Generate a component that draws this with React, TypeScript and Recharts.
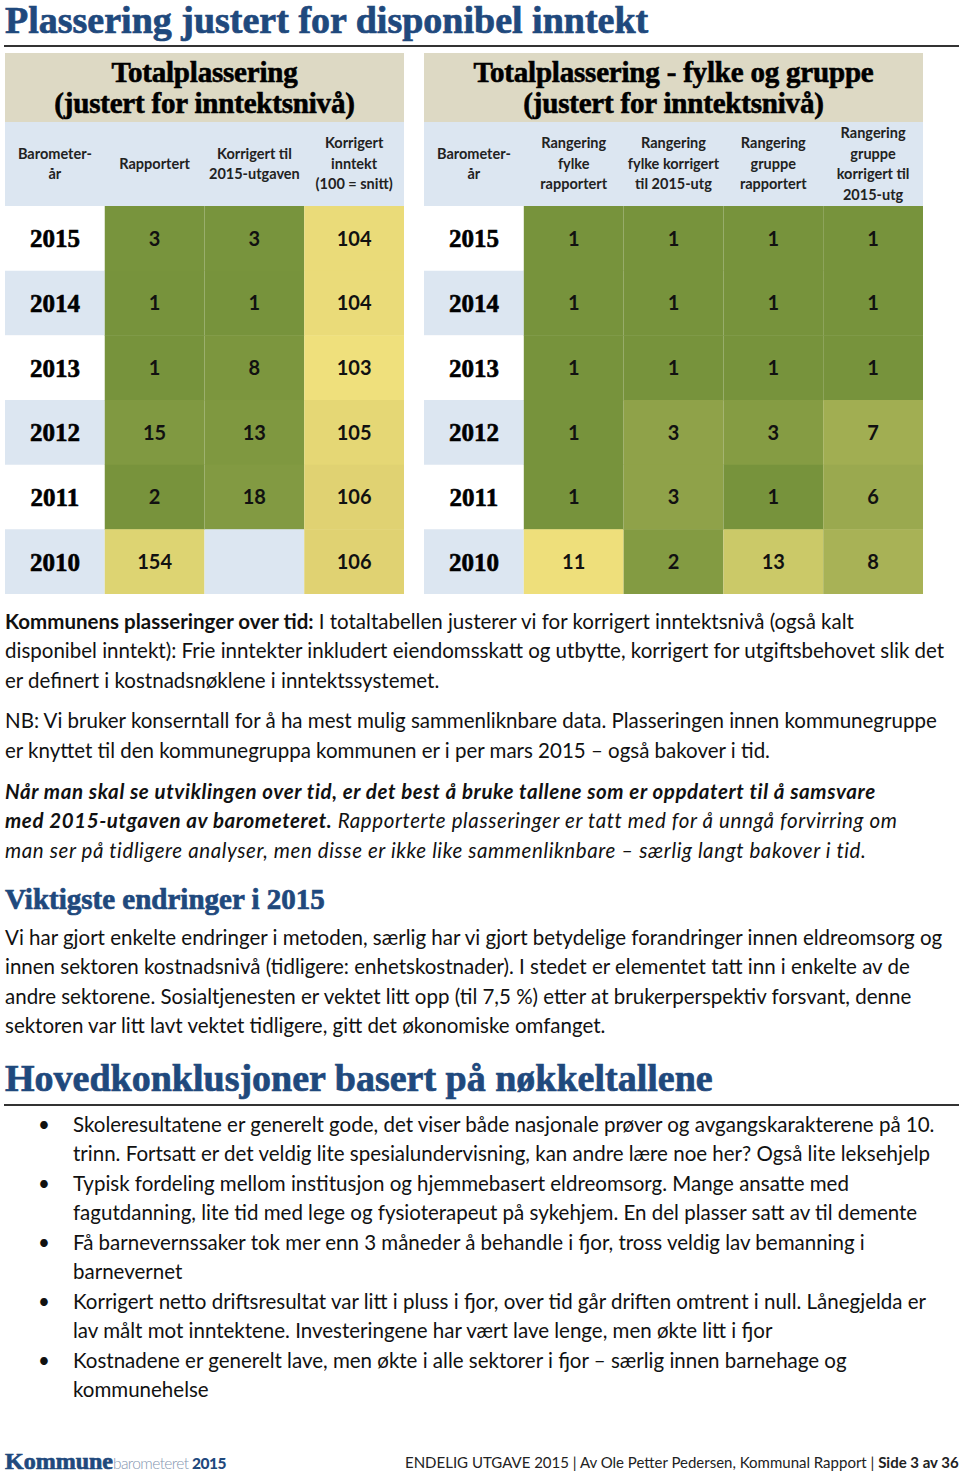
import React from 'react';
import { BarChart, Bar, XAxis, YAxis, Cell, LabelList } from 'recharts';

const years = [2015, 2014, 2013, 2012, 2011, 2010];
const rapportert = [3, 1, 1, 15, 2, 154];
const korrigert2015 = [3, 1, 8, 13, 18, null];
const korrigertInntekt = [104, 104, 103, 105, 106, 106];

const fylkeRapportert = [1, 1, 1, 1, 1, 11];
const fylkeKorrigert = [1, 1, 1, 3, 3, 2];
const gruppeRapportert = [1, 1, 1, 3, 1, 13];
const gruppeKorrigert = [1, 1, 1, 7, 6, 8];

const leftHeaders = [['Barometer-', 'år'], ['Rapportert'], ['Korrigert til', '2015-utgaven'], ['Korrigert', 'inntekt', '(100 = snitt)']];
const rightHeaders = [
  ['Barometer-', 'år'],
  ['Rangering', 'fylke', 'rapportert'],
  ['Rangering', 'fylke korrigert', 'til 2015-utg'],
  ['Rangering', 'gruppe', 'rapportert'],
  ['Rangering', 'gruppe', 'korrigert til', '2015-utg'],
];

const BLUE = '#1f497d';
const LIGHTBLUE = '#dce6f1';
const TAN = '#ddd9c4';
const SERIF = '"Liberation Serif", "DejaVu Serif", serif';
const SANS = 'Lato, "Open Sans", sans-serif';

const GREEN = [0x77, 0x93, 0x3c];
const YELLOW = [0xee, 0xdf, 0x7b];

const mix = (a: number[], b: number[], t: number) => {
  const c = a.map((v, i) => Math.round(v + (b[i] - v) * t));
  return `rgb(${c[0]},${c[1]},${c[2]})`;
};
const scale = (lo: number, hi: number, from = GREEN, to = YELLOW) => (v: number | null) => {
  if (v == null) return null;
  const t = Math.max(0, Math.min(1, (v - lo) / (hi - lo)));
  return mix(from, to, t);
};
const rankScale = scale(1, 180);
const fylkeScale = scale(1, 11);
const gruppeScale = scale(1, 18);
const incomeScale = scale(103, 106, [0xef, 0xe0, 0x7c], [0xe0, 0xd2, 0x72]);

const rowBg = (i: number) => (i % 2 === 0 ? '#ffffff' : LIGHTBLUE);

const leftRows = years.map((y, i) => ({
  year: y, w0: 1, w1: 1, w2: 1, w3: 1,
  a: rapportert[i], b: korrigert2015[i], c: korrigertInntekt[i],
}));
const rightRows = years.map((y, i) => ({
  year: y, w0: 1, w1: 1, w2: 1, w3: 1, w4: 1,
  a: fylkeRapportert[i], b: fylkeKorrigert[i], c: gruppeRapportert[i], d: gruppeKorrigert[i],
}));

const yearLabel = { fill: '#000', fontFamily: SERIF, fontWeight: 700, fontSize: 25, stroke: '#000', strokeWidth: 0.6 };
const valueLabel = { fill: '#111', fontFamily: SANS, fontWeight: 700, fontSize: 20 };

type Col = { key: string; w: string; color: (v: any, i: number) => string | null };

const Table = ({ left, top, width, title, headers, rows, cols }: any) => (
  <div style={{ position: 'absolute', left, top, width }}>
    <div style={{ background: TAN, height: 69, display: 'flex', flexDirection: 'column', justifyContent: 'center', alignItems: 'center', fontFamily: SERIF, fontWeight: 700, fontSize: 29, lineHeight: '31px', WebkitTextStroke: '0.6px #000', letterSpacing: -0.2, whiteSpace: 'nowrap' }}>
      {title.map((t: string) => <div key={t}>{t}</div>)}
    </div>
    <div style={{ background: LIGHTBLUE, height: 84, display: 'flex' }}>
      {headers.map((h: string[], i: number) => (
        <div key={i} style={{ flex: 1, display: 'flex', flexDirection: 'column', justifyContent: 'center', alignItems: 'center', fontFamily: SANS, fontWeight: 700, fontSize: 14.5, lineHeight: '20.5px', color: '#222', whiteSpace: 'nowrap' }}>
          {h.map((l) => <div key={l}>{l}</div>)}
        </div>
      ))}
    </div>
    <BarChart width={width} height={388} data={rows} layout="vertical" margin={{ top: 0, right: 0, bottom: 0, left: 0 }} barCategoryGap={0}>
      <XAxis type="number" domain={[0, cols.length]} hide />
      <YAxis type="category" dataKey="year" hide />
      {cols.map((c: Col, ci: number) => (
        <Bar key={c.key} dataKey={c.w} stackId="t" isAnimationActive={false}>
          {rows.map((r: any, i: number) => (
            <Cell key={i} fill={c.color(r[c.key], i) ?? rowBg(i)} />
          ))}
          <LabelList dataKey={c.key} position="center" style={ci === 0 ? yearLabel : valueLabel} />
        </Bar>
      ))}
    </BarChart>
  </div>
);

const Line = ({ x, y, size = 20.5, children, style }: any) => (
  <div style={{ position: 'absolute', left: x, top: y - 15, lineHeight: '30px', fontSize: size, whiteSpace: 'nowrap', fontFamily: SANS, color: '#111', ...style }}>
    {children}
  </div>
);

const ITALIC = { fontStyle: 'italic', letterSpacing: 0.6 };

const Heading = ({ y, size, children }: any) => (
  <div style={{ position: 'absolute', left: 5, top: y - size * 0.62, lineHeight: `${size * 1.2}px`, fontSize: size, whiteSpace: 'nowrap', fontFamily: SERIF, fontWeight: 700, color: BLUE, WebkitTextStroke: `0.7px ${BLUE}` }}>
    {children}
  </div>
);

const Bullet = ({ y }: { y: number }) => <Line x={38} y={y}>•</Line>;

export default function App() {
  const leftCols: Col[] = [
    { key: 'year', w: 'w0', color: () => null },
    { key: 'a', w: 'w1', color: rankScale },
    { key: 'b', w: 'w2', color: rankScale },
    { key: 'c', w: 'w3', color: incomeScale },
  ];
  const rightCols: Col[] = [
    { key: 'year', w: 'w0', color: () => null },
    { key: 'a', w: 'w1', color: fylkeScale },
    { key: 'b', w: 'w2', color: fylkeScale },
    { key: 'c', w: 'w3', color: gruppeScale },
    { key: 'd', w: 'w4', color: gruppeScale },
  ];
  return (
    <div style={{ position: 'absolute', left: 0, top: 0, width: 960, height: 1475, background: '#fff', overflow: 'hidden' }}>
      <Heading y={22} size={38}>Plassering justert for disponibel inntekt</Heading>
      <div style={{ position: 'absolute', left: 4, top: 45, width: 955, height: 1.5, background: '#333' }} />

      <Table left={5} top={53} width={399} title={['Totalplassering', '(justert for inntektsnivå)']} headers={leftHeaders} rows={leftRows} cols={leftCols} />
      <Table left={424} top={53} width={499} title={['Totalplassering - fylke og gruppe', '(justert for inntektsnivå)']} headers={rightHeaders} rows={rightRows} cols={rightCols} />

      <Line x={5} y={621}><b>Kommunens plasseringer over tid:</b> I totaltabellen justerer vi for korrigert inntektsnivå (også kalt</Line>
      <Line x={5} y={650}>disponibel inntekt): Frie inntekter inkludert eiendomsskatt og utbytte, korrigert for utgiftsbehovet slik det</Line>
      <Line x={5} y={680}>er definert i kostnadsnøklene i inntektssystemet.</Line>
      <Line x={5} y={720}>NB: Vi bruker konserntall for å ha mest mulig sammenliknbare data. Plasseringen innen kommunegruppe</Line>
      <Line x={5} y={750}>er knyttet til den kommunegruppa kommunen er i per mars 2015 – også bakover i tid.</Line>
      <Line x={5} y={791} style={{ ...ITALIC, fontWeight: 700 }}>Når man skal se utviklingen over tid, er det best å bruke tallene som er oppdatert til å samsvare</Line>
      <Line x={5} y={820} style={ITALIC}><b>med 2015-utgaven av barometeret.</b> Rapporterte plasseringer er tatt med for å unngå forvirring om</Line>
      <Line x={5} y={850} style={ITALIC}>man ser på tidligere analyser, men disse er ikke like sammenliknbare – særlig langt bakover i tid.</Line>

      <Heading y={900} size={29}>Viktigste endringer i 2015</Heading>
      <Line x={5} y={937}>Vi har gjort enkelte endringer i metoden, særlig har vi gjort betydelige forandringer innen eldreomsorg og</Line>
      <Line x={5} y={966}>innen sektoren kostnadsnivå (tidligere: enhetskostnader). I stedet er elementet tatt inn i enkelte av de</Line>
      <Line x={5} y={996}>andre sektorene. Sosialtjenesten er vektet litt opp (til 7,5 %) etter at brukerperspektiv forsvant, denne</Line>
      <Line x={5} y={1025}>sektoren var litt lavt vektet tidligere, gitt det økonomiske omfanget.</Line>

      <Heading y={1080} size={38}>Hovedkonklusjoner basert på nøkkeltallene</Heading>
      <div style={{ position: 'absolute', left: 4, top: 1104, width: 955, height: 1.5, background: '#333' }} />

      <Bullet y={1124} />
      <Line x={73} y={1124}>Skoleresultatene er generelt gode, det viser både nasjonale prøver og avgangskarakterene på 10.</Line>
      <Line x={73} y={1153}>trinn. Fortsatt er det veldig lite spesialundervisning, kan andre lære noe her? Også lite leksehjelp</Line>
      <Bullet y={1183} />
      <Line x={73} y={1183}>Typisk fordeling mellom institusjon og hjemmebasert eldreomsorg. Mange ansatte med</Line>
      <Line x={73} y={1212}>fagutdanning, lite tid med lege og fysioterapeut på sykehjem. En del plasser satt av til demente</Line>
      <Bullet y={1242} />
      <Line x={73} y={1242}>Få barnevernssaker tok mer enn 3 måneder å behandle i fjor, tross veldig lav bemanning i</Line>
      <Line x={73} y={1271}>barnevernet</Line>
      <Bullet y={1301} />
      <Line x={73} y={1301}>Korrigert netto driftsresultat var litt i pluss i fjor, over tid går driften omtrent i null. Lånegjelda er</Line>
      <Line x={73} y={1330}>lav målt mot inntektene. Investeringene har vært lave lenge, men økte litt i fjor</Line>
      <Bullet y={1360} />
      <Line x={73} y={1360}>Kostnadene er generelt lave, men økte i alle sektorer i fjor – særlig innen barnehage og</Line>
      <Line x={73} y={1389}>kommunehelse</Line>

      <div style={{ position: 'absolute', left: 5, top: 1448, lineHeight: '26px', whiteSpace: 'nowrap' }}>
        <span style={{ fontFamily: SERIF, fontWeight: 700, fontSize: 24, color: BLUE, WebkitTextStroke: `0.7px ${BLUE}` }}>Kommune</span>
        <span style={{ fontFamily: SANS, fontWeight: 300, fontSize: 15.5, color: '#8496b0', letterSpacing: -0.6 }}>barometeret </span>
        <span style={{ fontFamily: SANS, fontWeight: 900, fontSize: 15.5, color: BLUE, letterSpacing: -0.5 }}>2015</span>
      </div>
      <div style={{ position: 'absolute', left: 405, top: 1451, lineHeight: '22px', fontSize: 15, fontFamily: SANS, color: '#222', whiteSpace: 'nowrap' }}>
        ENDELIG UTGAVE 2015 | Av Ole Petter Pedersen, Kommunal Rapport | <b>Side 3 av 36</b>
      </div>
    </div>
  );
}
